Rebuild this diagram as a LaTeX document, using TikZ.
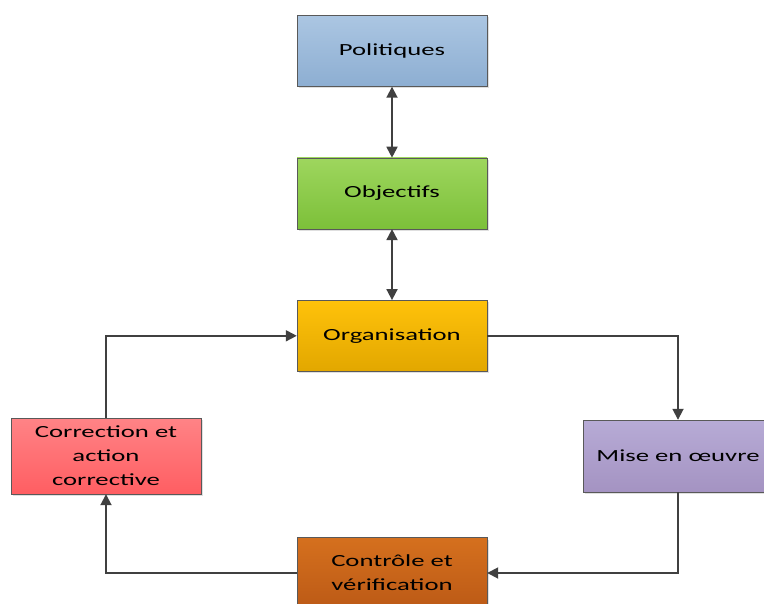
\documentclass[tikz,border=0pt]{standalone}
\usepackage{fontspec}
\setmainfont[FakeStretch=1.57]{Carlito}
\usetikzlibrary{positioning,arrows.meta,shadows}

\definecolor{polA}{HTML}{ABC6E2}
\definecolor{polB}{HTML}{8DAED2}
\definecolor{objA}{HTML}{9ED65E}
\definecolor{objB}{HTML}{7CC039}
\definecolor{orgA}{HTML}{FFC20A}
\definecolor{orgB}{HTML}{E2A700}
\definecolor{corA}{HTML}{FF8386}
\definecolor{corB}{HTML}{FF5E62}
\definecolor{misA}{HTML}{B7ABD6}
\definecolor{misB}{HTML}{A493C2}
\definecolor{ctlA}{HTML}{D5701E}
\definecolor{ctlB}{HTML}{BC5A16}

\begin{document}
\begin{tikzpicture}[x=1pt,y=-1pt,node distance=71pt,>={Triangle[length=11pt,width=11pt]}]
	\tikzstyle{box}=[rectangle,draw=black!65,minimum width=190pt,minimum height=71pt,align=center,
		font=\fontsize{17}{24}\selectfont,drop shadow={opacity=0.25,shadow xshift=2pt,shadow yshift=-2pt}]
	\tikzstyle{link}=[draw=black!75,line width=1.8pt]
	\useasboundingbox (0,0) rectangle (764,604);
		\node[box,top color=polA,bottom color=polB] (pol) at (392,51) {Politiques};
		\node[box,top color=objA,bottom color=objB] (obj) [below=of pol] {Objectifs};
		\node[box,top color=orgA,bottom color=orgB] (org) [below=of obj] {Organisation};
		\node[box,top color=corA,bottom color=corB,minimum height=76pt] (cor) at (106,456) {Correction et\\action\\corrective};
		\node[box,top color=misA,bottom color=misB,minimum height=72pt] (mis) at (678,456) {Mise en œuvre};
		\node[box,top color=ctlA,bottom color=ctlB] (ctl) at (392,573) {Contrôle et\\vérification};
			\draw[link,<->] (pol) -- (obj);
			\draw[link,<->] (obj) -- (org);
			\draw[link,->] (org.east) -| (mis.north);
			\draw[link,->] (mis.south) |- (ctl.east);
			\draw[link,->] (ctl.west) -| (cor.south);
			\draw[link,->] (cor.north) |- (org.west);
\end{tikzpicture}
\end{document}
